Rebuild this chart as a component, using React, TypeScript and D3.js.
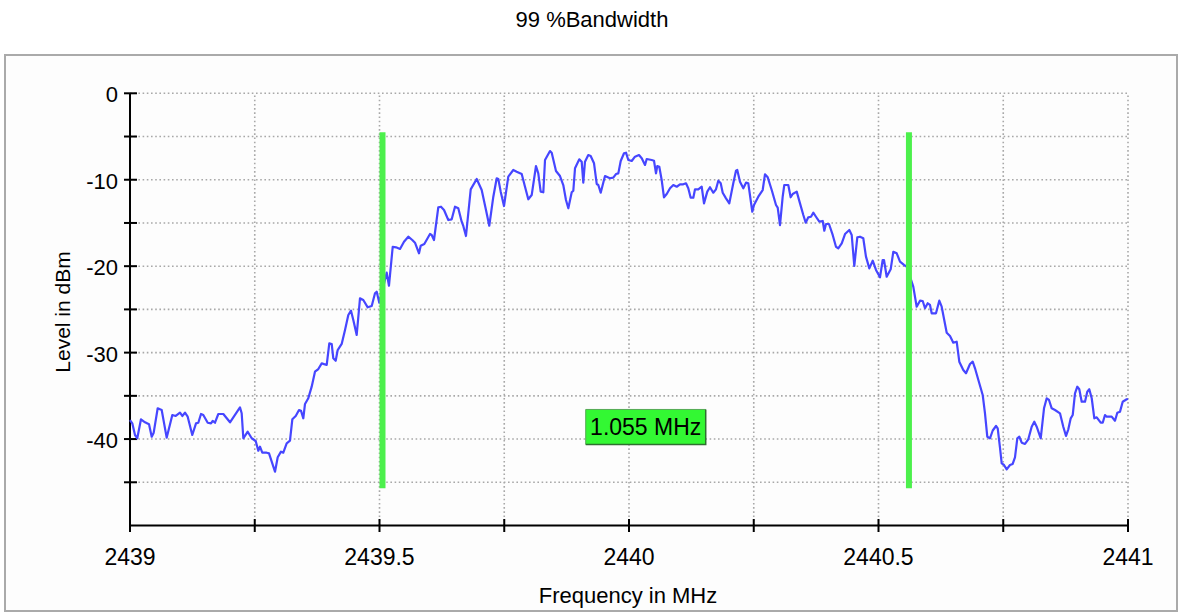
import React from "react";
import * as d3 from "d3";

const titleText = "99 %Bandwidth";
const xLabel = "Frequency in MHz";
const yLabel = "Level in dBm";

const freqMHz = [
  2439.0, 2439.0046, 2439.01, 2439.0146, 2439.022, 2439.0301, 2439.0381, 2439.0435, 2439.0475, 2439.0555,
  2439.0635, 2439.0735, 2439.0848, 2439.0916, 2439.1002, 2439.1048, 2439.1102, 2439.1156, 2439.1248, 2439.1323,
  2439.1369, 2439.1423, 2439.1469, 2439.1557, 2439.1623, 2439.1657, 2439.1703, 2439.177, 2439.187, 2439.2004,
  2439.2204, 2439.2238, 2439.2271, 2439.2359, 2439.2439, 2439.2519, 2439.2571, 2439.2605, 2439.2651, 2439.2739,
  2439.2786, 2439.284, 2439.2906, 2439.296, 2439.3026, 2439.3072, 2439.314, 2439.3206, 2439.3253, 2439.3321,
  2439.3387, 2439.3427, 2439.3473, 2439.3507, 2439.3573, 2439.3641, 2439.3707, 2439.3774, 2439.3842, 2439.3942,
  2439.3994, 2439.4042, 2439.4074, 2439.4122, 2439.4162, 2439.4242, 2439.4309, 2439.4375, 2439.4429, 2439.4475,
  2439.4543, 2439.4609, 2439.4675, 2439.4764, 2439.4844, 2439.491, 2439.4944, 2439.4996, 2439.5144, 2439.519,
  2439.5265, 2439.5331, 2439.5411, 2439.5491, 2439.5577, 2439.5657, 2439.5711, 2439.5792, 2439.5826, 2439.5898,
  2439.6012, 2439.6046, 2439.6092, 2439.6178, 2439.6232, 2439.6293, 2439.6379, 2439.6447, 2439.6513, 2439.6579,
  2439.6647, 2439.6679, 2439.6733, 2439.6828, 2439.6948, 2439.7048, 2439.7134, 2439.72, 2439.7281, 2439.7349,
  2439.7381, 2439.7429, 2439.7495, 2439.7581, 2439.7681, 2439.7749, 2439.785, 2439.7916, 2439.7982, 2439.805,
  2439.8136, 2439.8182, 2439.823, 2439.8283, 2439.8317, 2439.8417, 2439.8451, 2439.8537, 2439.8617, 2439.8683,
  2439.8737, 2439.8784, 2439.8852, 2439.8884, 2439.8918, 2439.9004, 2439.9052, 2439.9084, 2439.9118, 2439.9184,
  2439.9232, 2439.9299, 2439.9353, 2439.9385, 2439.9433, 2439.9519, 2439.9619, 2439.9685, 2439.9739, 2439.9786,
  2439.9834, 2439.99, 2439.994, 2439.9986, 2440.0054, 2440.012, 2440.02, 2440.0255, 2440.0321, 2440.0355,
  2440.0455, 2440.0501, 2440.0541, 2440.0567, 2440.0607, 2440.0655, 2440.0701, 2440.0756, 2440.0822, 2440.0888,
  2440.0956, 2440.1022, 2440.1088, 2440.1142, 2440.1188, 2440.1236, 2440.1289, 2440.1323, 2440.1389, 2440.1457,
  2440.1503, 2440.1569, 2440.1623, 2440.1689, 2440.1743, 2440.179, 2440.1838, 2440.1878, 2440.1944, 2440.201,
  2440.209, 2440.2144, 2440.217, 2440.2224, 2440.2291, 2440.2345, 2440.2391, 2440.2471, 2440.2505, 2440.2591,
  2440.2679, 2440.2725, 2440.278, 2440.286, 2440.2946, 2440.298, 2440.3026, 2440.308, 2440.3112, 2440.3192,
  2440.324, 2440.3281, 2440.3361, 2440.3427, 2440.3493, 2440.3541, 2440.3593, 2440.3647, 2440.3693, 2440.3747,
  2440.3814, 2440.3882, 2440.3914, 2440.3948, 2440.4008, 2440.4082, 2440.4148, 2440.4194, 2440.4263, 2440.4329,
  2440.4415, 2440.4463, 2440.4515, 2440.4575, 2440.4629, 2440.4695, 2440.4749, 2440.4816, 2440.4884, 2440.495,
  2440.503, 2440.5084, 2440.511, 2440.5164, 2440.5244, 2440.5297, 2440.5365, 2440.5431, 2440.5511, 2440.5565,
  2440.5697, 2440.5765, 2440.5832, 2440.5886, 2440.5932, 2440.5986, 2440.6032, 2440.6066, 2440.6152, 2440.6218,
  2440.6266, 2440.6367, 2440.6433, 2440.6499, 2440.6567, 2440.6619, 2440.6699, 2440.6754, 2440.6834, 2440.6888,
  2440.6934, 2440.702, 2440.7088, 2440.7134, 2440.718, 2440.7234, 2440.7289, 2440.7355, 2440.7389, 2440.7435,
  2440.7469, 2440.7515, 2440.7569, 2440.7635, 2440.7689, 2440.7735, 2440.7782, 2440.7822, 2440.787, 2440.7936,
  2440.8002, 2440.807, 2440.8122, 2440.817, 2440.8251, 2440.8317, 2440.8371, 2440.8417, 2440.8471, 2440.8537,
  2440.8637, 2440.8703, 2440.8758, 2440.8804, 2440.8852, 2440.8892, 2440.8938, 2440.8984, 2440.9024, 2440.9072,
  2440.9138, 2440.9184, 2440.9224, 2440.9273, 2440.9325, 2440.9373, 2440.9453, 2440.9493, 2440.9539, 2440.9573,
  2440.9673, 2440.9739, 2440.9786, 2440.984, 2440.9894, 2440.9974, 2441.0,
];

const levelDbm = [
  -37.8, -38.18, -39.53, -39.91, -37.71, -38.06, -38.29, -39.73, -39.26, -36.44,
  -36.64, -39.84, -37.22, -37.33, -36.95, -37.33, -36.95, -37.41, -39.53, -38.18,
  -38.11, -37.1, -37.22, -38.11, -38.18, -37.91, -38.11, -37.1, -37.1, -38.06,
  -36.33, -37.02, -39.91, -39.15, -39.91, -40.22, -41.35, -40.88, -41.58, -41.58,
  -41.65, -42.62, -43.78, -42.11, -41.46, -41.58, -40.49, -40.19, -37.71, -37.33,
  -36.64, -36.72, -37.6, -35.94, -35.28, -33.94, -32.21, -31.9, -31.24, -31.43,
  -28.92, -29.0, -30.66, -30.94, -29.7, -29.0, -27.38, -25.65, -25.15, -26.23,
  -27.96, -23.72, -23.91, -24.76, -24.61, -23.14, -22.95, -24.23, -20.75, -22.26,
  -17.75, -17.82, -18.01, -17.17, -16.59, -16.97, -17.28, -18.51, -17.63, -17.43,
  -16.28, -16.39, -16.97, -13.19, -13.12, -13.5, -14.66, -14.58, -13.12, -13.3,
  -14.85, -15.35, -16.51, -11.11, -9.91, -11.19, -13.5, -15.32, -11.96, -9.83,
  -9.91, -11.38, -13.04, -9.65, -8.87, -9.07, -9.34, -10.81, -12.26, -11.77,
  -8.41, -9.26, -11.38, -11.45, -7.72, -6.68, -6.87, -8.99, -9.57, -10.61,
  -12.34, -13.3, -11.45, -11.27, -8.68, -7.64, -7.91, -10.34, -7.91, -7.14,
  -7.25, -8.1, -10.49, -10.61, -11.5, -9.57, -9.83, -9.76, -9.34, -9.26,
  -7.83, -6.94, -6.87, -7.72, -7.83, -7.33, -7.14, -7.52, -8.29, -7.6,
  -7.72, -7.8, -9.26, -8.41, -8.49, -10.03, -12.03, -11.65, -10.99, -10.61,
  -10.81, -10.53, -10.53, -10.41, -10.99, -12.08, -12.08, -11.11, -11.11, -10.81,
  -12.73, -11.38, -10.87, -11.5, -11.11, -10.11, -10.41, -11.5, -12.15, -12.73,
  -10.41, -8.95, -8.87, -10.23, -10.99, -10.34, -10.41, -13.7, -12.92, -11.96,
  -11.19, -9.37, -9.72, -11.19, -12.92, -13.23, -15.24, -11.96, -10.61, -10.61,
  -12.03, -11.65, -11.38, -12.73, -14.08, -14.97, -14.35, -14.28, -13.81, -14.28,
  -14.85, -14.77, -15.9, -15.12, -15.12, -16.39, -17.75, -17.93, -17.35, -16.28,
  -15.81, -16.39, -19.98, -16.66, -16.59, -16.77, -18.9, -20.25, -19.37, -20.44,
  -21.29, -19.29, -19.29, -21.22, -20.36, -18.33, -18.51, -19.48, -19.86, -20.06,
  -22.37, -24.69, -23.99, -24.03, -24.87, -24.29, -24.49, -25.45, -25.45, -23.99,
  -24.69, -27.7, -28.08, -28.85, -28.74, -31.05, -32.01, -32.39, -31.32, -31.05,
  -31.81, -33.55, -34.9, -37.02, -39.73, -39.91, -39.01, -38.49, -38.76, -41.03,
  -42.8, -43.0, -43.5, -43.0, -42.88, -42.11, -39.91, -39.73, -40.42, -40.57,
  -40.03, -38.57, -37.99, -38.57, -39.91, -36.44, -35.28, -35.48, -36.44, -36.64,
  -37.02, -38.57, -39.64, -38.87, -37.6, -37.22, -34.71, -33.94, -34.24, -35.68,
  -35.68, -34.52, -34.24, -35.28, -37.6, -37.48, -38.11, -38.11, -37.22, -37.41,
  -37.41, -37.88, -36.95, -36.83, -35.68, -35.4, -35.36,
];

const markerFreqs = [2439.506, 2440.561];
const markerLevels = [-4.5, -45.7];
const bandwidthLabel = "1.055 MHz";
const labelLevel = -38.6;

const xDomain = [2439, 2441];
const yDomain = [-50, 0];
const xMajorTicks = [2439, 2439.5, 2440, 2440.5, 2441];
const xMajorLabels = ["2439", "2439.5", "2440", "2440.5", "2441"];
const xGridTicks = [2439, 2439.25, 2439.5, 2439.75, 2440, 2440.25, 2440.5, 2440.75, 2441];
const yMajorTicks = [0, -10, -20, -30, -40];
const yMajorLabels = ["0", "-10", "-20", "-30", "-40"];
const yGridTicks = [0, -5, -10, -15, -20, -25, -30, -35, -40, -45];

const FONT = "'Liberation Sans', Arial, Helvetica, sans-serif";

export default function App() {
  const W = 1178;
  const H = 613;
  const x = d3.scaleLinear().domain(xDomain).range([130, 1128]);
  const y = d3.scaleLinear().domain(yDomain).range([525.5, 93.3]);

  const pts: [number, number][] = freqMHz.map((f, i) => [f, levelDbm[i]]);
  const line = d3
    .line<[number, number]>()
    .x((d) => x(d[0]))
    .y((d) => y(d[1]));

  const gridColor = "#a8a8a8";
  const midFreq = (markerFreqs[0] + markerFreqs[1]) / 2;
  const bx = x(midFreq) - 60;
  const by = y(labelLevel) - 17.5;

  return (
    <svg
      width={W}
      height={H}
      style={{ position: "absolute", left: 0, top: 0, background: "#fff" }}
      fontFamily={FONT}
    >
      <rect x={0} y={0} width={W} height={H} fill="#fff" />
      <text x={592} y={27} textAnchor="middle" fontSize={22} fill="#000">
        {titleText}
      </text>
      <rect x={5} y={55} width={1172} height={556} fill="#fdfdfd" stroke="#aaaaaa" strokeWidth={2} />

      {/* grid */}
      {yGridTicks.map((t) => (
        <line
          key={"gy" + t}
          x1={x(xDomain[0])}
          x2={x(xDomain[1])}
          y1={y(t)}
          y2={y(t)}
          stroke={gridColor}
          strokeWidth={1.6}
          strokeDasharray="1.6,2.6"
        />
      ))}
      {xGridTicks.map((t) => (
        <line
          key={"gx" + t}
          x1={x(t)}
          x2={x(t)}
          y1={y(yDomain[0])}
          y2={y(yDomain[1])}
          stroke={gridColor}
          strokeWidth={1.6}
          strokeDasharray="1.6,2.6"
        />
      ))}

      {/* axes */}
      <line x1={x(xDomain[0])} x2={x(xDomain[0])} y1={y(0)} y2={y(-50)} stroke="#000" strokeWidth={2} />
      <line x1={x(xDomain[0])} x2={x(xDomain[1])} y1={y(-50)} y2={y(-50)} stroke="#000" strokeWidth={2} />
      {yGridTicks.map((t) => (
        <line key={"ty" + t} x1={124} x2={137} y1={y(t)} y2={y(t)} stroke="#000" strokeWidth={2} />
      ))}
      {xGridTicks.map((t) => (
        <line key={"tx" + t} x1={x(t)} x2={x(t)} y1={519} y2={532} stroke="#000" strokeWidth={2} />
      ))}
      {yMajorTicks.map((t, i) => (
        <text key={"ly" + t} x={118} y={y(t) + 9} textAnchor="end" fontSize={22} fill="#000">
          {yMajorLabels[i]}
        </text>
      ))}
      {xMajorTicks.map((t, i) => (
        <text key={"lx" + t} x={x(t)} y={565} textAnchor="middle" fontSize={23} fill="#000">
          {xMajorLabels[i]}
        </text>
      ))}
      <text x={628} y={603} textAnchor="middle" fontSize={22} fill="#000">
        {xLabel}
      </text>
      <text
        transform={`translate(70, 312) rotate(-90)`}
        textAnchor="middle"
        fontSize={21}
        fill="#000"
      >
        {yLabel}
      </text>

      {/* trace */}
      <path d={line(pts) || ""} fill="none" stroke="#4646ff" strokeWidth={2.2} strokeLinejoin="round" />

      {/* markers */}
      {markerFreqs.map((f) => (
        <line
          key={"m" + f}
          x1={x(f)}
          x2={x(f)}
          y1={y(markerLevels[0])}
          y2={y(markerLevels[1])}
          stroke="#4cf04c"
          strokeWidth={6}
        />
      ))}
      <rect x={bx} y={by} width={120} height={35} fill="#33f833" />
      <path
        d={`M${bx},${by + 35} L${bx},${by} L${bx + 120},${by}`}
        fill="none"
        stroke="#55aa55"
        strokeWidth={1}
      />
      <path
        d={`M${bx + 120},${by} L${bx + 120},${by + 35} L${bx},${by + 35}`}
        fill="none"
        stroke="#2f6f2f"
        strokeWidth={1.5}
      />
      <text x={x(midFreq)} y={y(labelLevel) + 8.5} textAnchor="middle" fontSize={23} fill="#000">
        {bandwidthLabel}
      </text>
    </svg>
  );
}
